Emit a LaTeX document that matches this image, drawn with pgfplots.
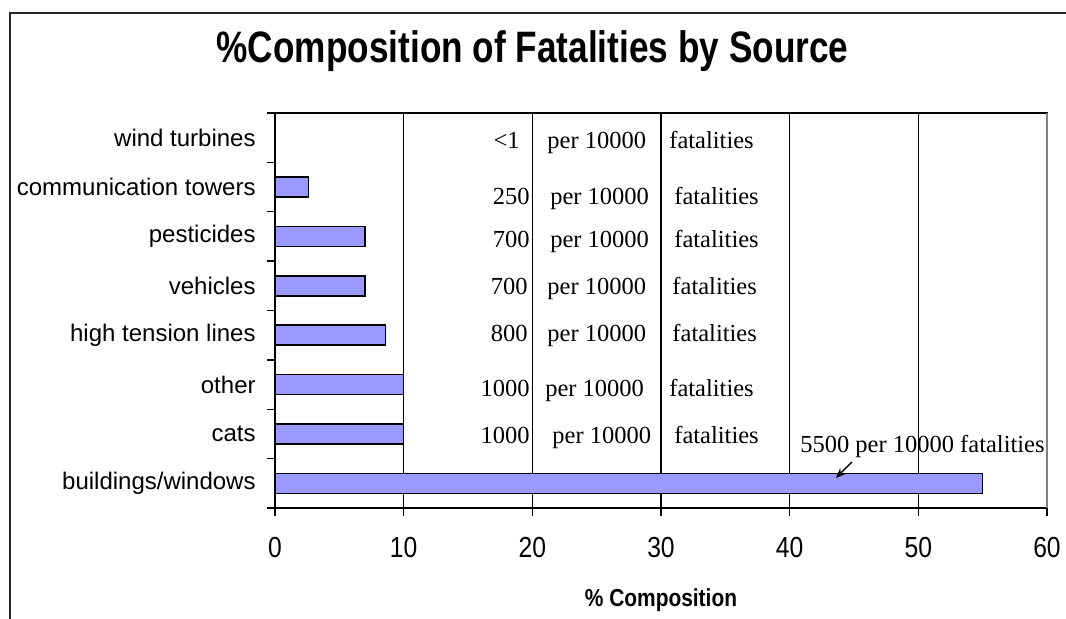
\documentclass[border=0pt]{standalone}
\usepackage{pgfplots}
\pgfplotsset{compat=1.18}
\usepackage{fontspec}
\setmainfont{Liberation Serif}
\newfontfamily\arial{Liberation Sans}
\newfontfamily\arialc[FakeStretch=0.85]{Liberation Sans}
\newfontfamily\arialt[FakeStretch=0.8]{Liberation Sans}
\usetikzlibrary{arrows.meta}
\definecolor{barblue}{HTML}{9999FF}
\begin{document}
\begin{tikzpicture}[x=1pt,y=1pt]
\useasboundingbox (0,0) rectangle (533,309.5);
\draw[line width=1pt, black!85] (5,-2) -- (5,303) -- (533,303);
\node[anchor=base, font=\arialt\bfseries\fontsize{22}{25}\selectfont, inner sep=0pt] at (266.25,278) {\%Composition of Fatalities by Source};
\begin{axis}[
  name=ax,
  at={(137.5pt,55.5pt)}, anchor=south west,
  width=386pt, height=197.5pt, scale only axis,
  xbar, bar width=10pt,
  xmin=0, xmax=60, ymin=-0.5, ymax=7.5,
  xtick={0,10,...,60},
  ytick={-0.5,0.5,...,7.5},
  yticklabels={},
  extra y ticks={0,1,2,3,4,5,6,7},
  extra y tick labels={buildings/windows, cats, other, high tension lines, vehicles, pesticides, communication towers, wind turbines},
  extra y tick style={major tick length=0pt},
  tick align=outside, tick pos=left,
  major tick length=4pt,
  tick style={black, line width=0.7pt},
  xmajorgrids, grid style={black, line width=0.6pt},
  axis line style={black, line width=0.7pt},
  /pgf/number format/assume math mode=true,
  xticklabel style={font=\arialc\fontsize{14.5}{16}\selectfont, inner sep=0pt, yshift=-10.5pt},
  yticklabel style={font=\arial\fontsize{12}{14}\selectfont, inner sep=0pt, xshift=-9.5pt},
  xlabel={\% Composition},
  every axis x label/.style={at={(axis description cs:0.5,0)}, anchor=north, inner sep=0pt, yshift=-40pt, font=\arialc\bfseries\fontsize{12.3}{14}\selectfont},
  clip=false,
]
\addplot[fill=barblue, draw=black, line width=0.75pt] coordinates {
  (55,0) (10,1) (10,2) (8.6,3) (7,4) (7,5) (2.6,6) (0,7)
};
\begin{scope}[every node/.style={font=\fontsize{12.25}{14}\selectfont, inner sep=0pt}]
\node[anchor=base east] at (axis cs:19.04,6.771) {<1};
\node[anchor=base west] at (axis cs:21.14,6.771) {per 10000};
\node[anchor=base west] at (axis cs:30.62,6.771) {fatalities};
\node[anchor=base east] at (axis cs:19.82,5.637) {250};
\node[anchor=base west] at (axis cs:21.37,5.637) {per 10000};
\node[anchor=base west] at (axis cs:31.01,5.637) {fatalities};
\node[anchor=base east] at (axis cs:19.82,4.766) {700};
\node[anchor=base west] at (axis cs:21.37,4.766) {per 10000};
\node[anchor=base west] at (axis cs:31.01,4.766) {fatalities};
\node[anchor=base east] at (axis cs:19.66,3.814) {700};
\node[anchor=base west] at (axis cs:21.14,3.814) {per 10000};
\node[anchor=base west] at (axis cs:30.86,3.814) {fatalities};
\node[anchor=base east] at (axis cs:19.66,2.862) {800};
\node[anchor=base west] at (axis cs:21.14,2.862) {per 10000};
\node[anchor=base west] at (axis cs:30.86,2.862) {fatalities};
\node[anchor=base east] at (axis cs:19.82,1.768) {1000};
\node[anchor=base west] at (axis cs:20.98,1.768) {per 10000};
\node[anchor=base west] at (axis cs:30.62,1.768) {fatalities};
\node[anchor=base east] at (axis cs:19.82,0.816) {1000};
\node[anchor=base west] at (axis cs:21.53,0.816) {per 10000};
\node[anchor=base west] at (axis cs:31.01,0.816) {fatalities};
\node[anchor=base west] at (axis cs:40.80,0.614) {5500 per 10000 fatalities};
\end{scope}
\draw[line width=0.7pt, -{Stealth[length=5pt,width=4pt]}] (axis cs:44.84,0.432) -- (axis cs:43.6,0.108);
\end{axis}
\draw[white, line width=1.2pt] (ax.south east) -- (ax.north east);
\draw[gray, line width=0.7pt] (ax.south east) -- (ax.north east);
\end{tikzpicture}
\end{document}
